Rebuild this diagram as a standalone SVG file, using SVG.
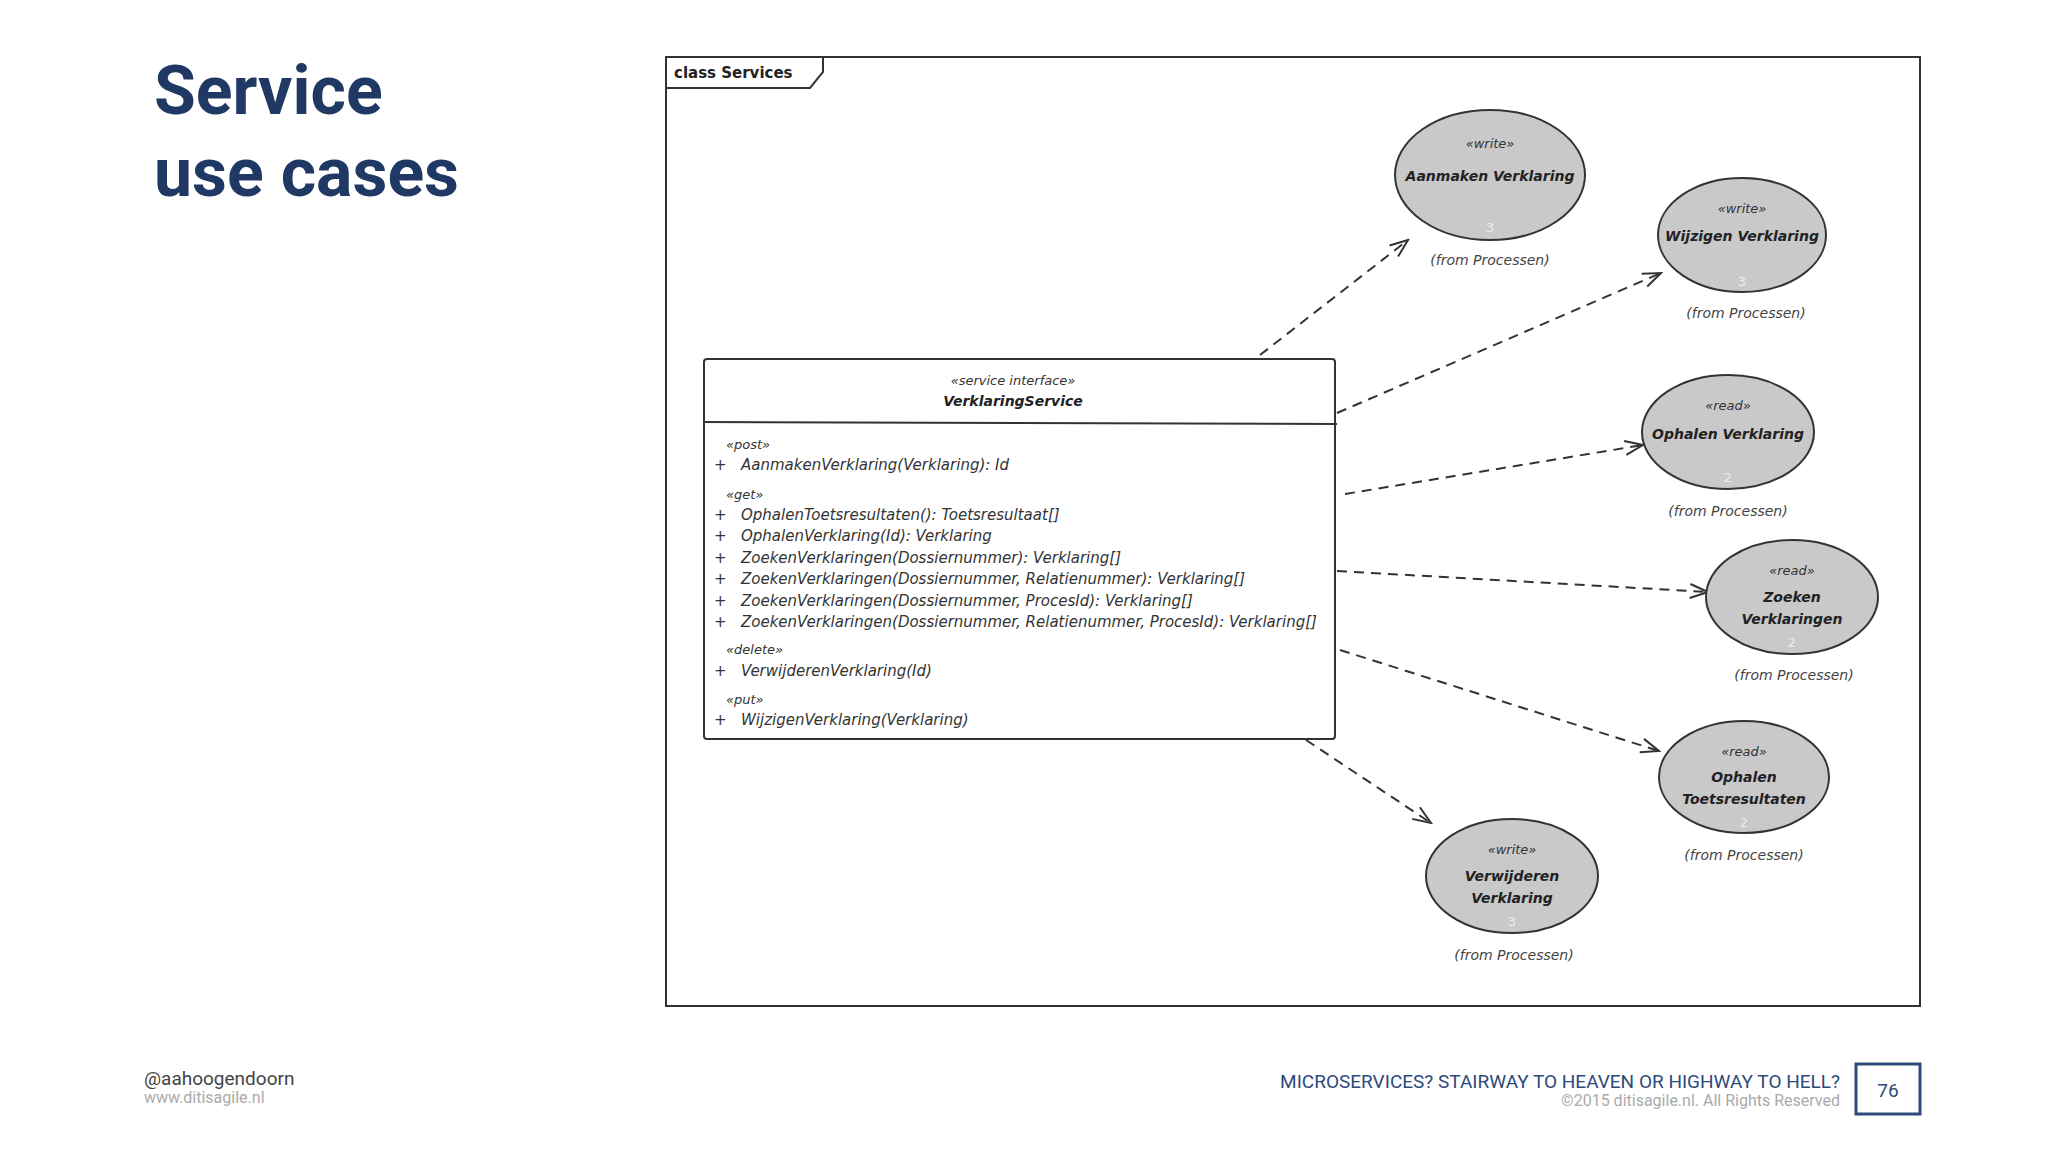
<svg xmlns="http://www.w3.org/2000/svg" width="2048" height="1152" viewBox="0 0 2048 1152">
<style>
.title{font-family:Roboto,"Liberation Sans",sans-serif;font-weight:bold;font-size:68px;fill:#1f3864}
.t{font-family:"DejaVu Sans","Liberation Sans",sans-serif;fill:#222}
.m{font-size:15px;font-style:italic;fill:#333}
.st{font-size:13px;font-style:italic;text-anchor:middle;fill:#333}
.nm{font-size:14px;font-weight:bold;font-style:italic;text-anchor:middle}
.fr{font-size:14px;font-style:italic;text-anchor:middle;fill:#444}
.num{font-size:13px;text-anchor:middle;fill:#eee}
.uc{fill:#c9c9c9;stroke:#333;stroke-width:2}
.c{fill:none;stroke:#333;stroke-width:2;stroke-dasharray:10 7;marker-end:url(#ah)}
.f{font-family:Roboto,"Liberation Sans",sans-serif}
</style>
<defs>
<marker id="ah" markerWidth="22" markerHeight="18" refX="20" refY="9" orient="auto" markerUnits="userSpaceOnUse">
<path d="M2,2 L20,9 L2,16" fill="none" stroke="#333" stroke-width="2"/>
</marker>
</defs>
<rect width="2048" height="1152" fill="#fff"/>
<text class="title" x="154" y="114">Service</text>
<text class="title" x="154" y="196">use cases</text>
<g id="frame">
<rect x="666" y="57" width="1254" height="949" fill="#fff" stroke="#333" stroke-width="2"/>
<path d="M666,88 L810,88 L823,72 L823,57" fill="none" stroke="#333" stroke-width="2"/>
<text class="t" x="674" y="78" font-size="15" font-weight="bold">class Services</text>
</g>
<g id="connectors">
<path class="c" d="M1260,355 L1408,240"/>
<path class="c" d="M1337,413 L1661,273"/>
<path class="c" d="M1345,494 L1643,445"/>
<path class="c" d="M1337,571 L1708,592"/>
<path class="c" d="M1340,650 L1659,751"/>
<path class="c" d="M1306,740 L1431,823"/>
</g>
<g id="VerklaringService" class="t">
<rect x="704" y="359" width="631" height="380" fill="#fff" stroke="#333" stroke-width="2" rx="3"/>
<line x1="704" y1="422" x2="1337" y2="424" stroke="#333" stroke-width="2"/>
<text class="st" x="1013" y="385" font-size="14">«service interface»</text>
<text class="nm" x="1013" y="406" font-size="15">VerklaringService</text>
<g class="m">
<text x="726" y="449" font-size="13">«post»</text>
<text x="714" y="470">+</text><text x="741" y="470">AanmakenVerklaring(Verklaring): Id</text>
<text x="726" y="499" font-size="13">«get»</text>
<text x="714" y="520">+</text><text x="741" y="520">OphalenToetsresultaten(): Toetsresultaat[]</text>
<text x="714" y="541">+</text><text x="741" y="541">OphalenVerklaring(Id): Verklaring</text>
<text x="714" y="563">+</text><text x="741" y="563">ZoekenVerklaringen(Dossiernummer): Verklaring[]</text>
<text x="714" y="584">+</text><text x="741" y="584">ZoekenVerklaringen(Dossiernummer, Relatienummer): Verklaring[]</text>
<text x="714" y="606">+</text><text x="741" y="606">ZoekenVerklaringen(Dossiernummer, ProcesId): Verklaring[]</text>
<text x="714" y="627">+</text><text x="741" y="627">ZoekenVerklaringen(Dossiernummer, Relatienummer, ProcesId): Verklaring[]</text>
<text x="726" y="654" font-size="13">«delete»</text>
<text x="714" y="676">+</text><text x="741" y="676">VerwijderenVerklaring(Id)</text>
<text x="726" y="704" font-size="13">«put»</text>
<text x="714" y="725">+</text><text x="741" y="725">WijzigenVerklaring(Verklaring)</text>
</g>
</g>
<g id="uc1" class="t">
<ellipse class="uc" cx="1490" cy="175" rx="95" ry="65"/>
<text class="st" x="1490" y="148">«write»</text>
<text class="nm" x="1490" y="181">Aanmaken Verklaring</text>
<text class="num" x="1490" y="232">3</text>
<text class="fr" x="1490" y="265">(from Processen)</text>
</g>
<g id="uc2" class="t">
<ellipse class="uc" cx="1742" cy="235" rx="84" ry="57"/>
<text class="st" x="1742" y="213">«write»</text>
<text class="nm" x="1742" y="241">Wijzigen Verklaring</text>
<text class="num" x="1742" y="286">3</text>
<text class="fr" x="1746" y="318">(from Processen)</text>
</g>
<g id="uc3" class="t">
<ellipse class="uc" cx="1728" cy="432" rx="86" ry="57"/>
<text class="st" x="1728" y="410">«read»</text>
<text class="nm" x="1728" y="439">Ophalen Verklaring</text>
<text class="num" x="1728" y="482">2</text>
<text class="fr" x="1728" y="516">(from Processen)</text>
</g>
<g id="uc4" class="t">
<ellipse class="uc" cx="1792" cy="597" rx="86" ry="57"/>
<text class="st" x="1792" y="575">«read»</text>
<text class="nm" x="1792" y="602">Zoeken</text>
<text class="nm" x="1792" y="624">Verklaringen</text>
<text class="num" x="1792" y="647">2</text>
<text class="fr" x="1794" y="680">(from Processen)</text>
</g>
<g id="uc5" class="t">
<ellipse class="uc" cx="1744" cy="777" rx="85" ry="56"/>
<text class="st" x="1744" y="756">«read»</text>
<text class="nm" x="1744" y="782">Ophalen</text>
<text class="nm" x="1744" y="804">Toetsresultaten</text>
<text class="num" x="1744" y="827">2</text>
<text class="fr" x="1744" y="860">(from Processen)</text>
</g>
<g id="uc6" class="t">
<ellipse class="uc" cx="1512" cy="876" rx="86" ry="57"/>
<text class="st" x="1512" y="854">«write»</text>
<text class="nm" x="1512" y="881">Verwijderen</text>
<text class="nm" x="1512" y="903">Verklaring</text>
<text class="num" x="1512" y="926">3</text>
<text class="fr" x="1514" y="960">(from Processen)</text>
</g>
<g id="footer">
<text class="f" x="144" y="1085" font-size="19" fill="#444">@aahoogendoorn</text>
<text class="f" x="144" y="1103" font-size="16" fill="#aaa">www.ditisagile.nl</text>
<text class="f" x="1840" y="1088" font-size="19" fill="#2e4a7a" text-anchor="end">MICROSERVICES? STAIRWAY TO HEAVEN OR HIGHWAY TO HELL?</text>
<text class="f" x="1840" y="1106" font-size="16" fill="#aaa" text-anchor="end">©2015 ditisagile.nl. All Rights Reserved</text>
<rect x="1856" y="1064" width="64" height="50" fill="none" stroke="#2e4a7a" stroke-width="3"/>
<text class="f" x="1888" y="1097" font-size="19" fill="#2e4a7a" text-anchor="middle">76</text>
</g>
</svg>
